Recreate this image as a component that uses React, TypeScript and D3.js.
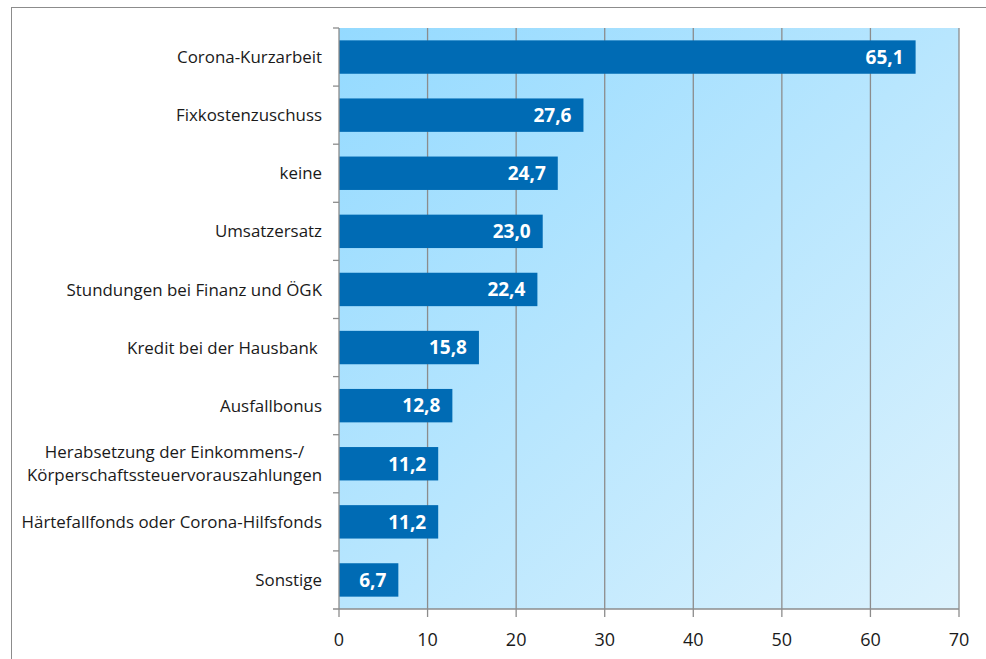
import React from "react";
import * as d3 from "d3";

const categories: string[][] = [
  ["Corona-Kurzarbeit"],
  ["Fixkostenzuschuss"],
  ["keine"],
  ["Umsatzersatz"],
  ["Stundungen bei Finanz und ÖGK"],
  ["Kredit bei der Hausbank "],
  ["Ausfallbonus"],
  ["Herabsetzung der Einkommens-/", "Körperschaftssteuervorauszahlungen"],
  ["Härtefallfonds oder Corona-Hilfsfonds"],
  ["Sonstige"],
];
const values: number[] = [65.1, 27.6, 24.7, 23.0, 22.4, 15.8, 12.8, 11.2, 11.2, 6.7];
const xTicks: number[] = [0, 10, 20, 30, 40, 50, 60, 70];

const W = 986;
const H = 659;
const left = 339;
const right = 959;
const top = 28;
const bottom = 609;
const FONT = "'Open Sans', sans-serif";
const LABEL_SIZE = 16.9;

let ctx: CanvasRenderingContext2D | null = null;
function measure(s: string): number {
  if (!ctx && typeof document !== "undefined") {
    ctx = document.createElement("canvas").getContext("2d");
  }
  if (!ctx) return s.length * LABEL_SIZE * 0.5;
  ctx.font = `${LABEL_SIZE}px 'Open Sans'`;
  return ctx.measureText(s).width;
}

export default function App() {
  const x = d3.scaleLinear().domain([0, 70]).range([left, right]);
  const y = d3
    .scaleBand<number>()
    .domain(d3.range(categories.length))
    .range([top, bottom])
    .paddingInner(0.425)
    .paddingOuter(0.2125);
  const band = (bottom - top) / categories.length;
  const fmt = (v: number) => v.toFixed(1).replace(".", ",");
  const labelRight = 322;

  return (
    <svg
      width={W}
      height={H}
      style={{ position: "absolute", left: 0, top: 0 }}
      fontFamily={FONT}
    >
      <defs>
        <linearGradient id="bg" x1="0" y1="0" x2="1" y2="1">
          <stop offset="0" stopColor="#94daff" />
          <stop offset="1" stopColor="#dcf2fd" />
        </linearGradient>
      </defs>
      <rect x={0} y={0} width={W} height={H} fill="#ffffff" />
      {/* outer frame */}
      <line x1={11} y1={7.5} x2={W} y2={7.5} stroke="#8c8c8c" strokeWidth={1} />
      <line x1={11.5} y1={7} x2={11.5} y2={H} stroke="#8c8c8c" strokeWidth={1} />
      {/* plot background */}
      <rect x={left} y={top} width={right - left} height={bottom - top} fill="url(#bg)" />
      {/* grid */}
      {xTicks.slice(1).map((t) => (
        <line
          key={"g" + t}
          x1={x(t)}
          x2={x(t)}
          y1={top}
          y2={bottom + 8}
          stroke="#8c8c8c"
          strokeWidth={1.3}
        />
      ))}
      {/* bars */}
      {values.map((v, i) => (
        <g key={"b" + i}>
          <rect
            x={x(0)}
            y={y(i)!}
            width={x(v) - x(0)}
            height={y.bandwidth()}
            fill="#006bb4"
          />
          <text
            x={x(v) - 12}
            y={y(i)! + y.bandwidth() / 2}
            dy="0.36em"
            textAnchor="end"
            fill="#ffffff"
            fontWeight={700}
            fontSize={19}
          >
            {fmt(v)}
          </text>
        </g>
      ))}
      {/* axes lines */}
      <line x1={left} x2={left} y1={top} y2={bottom + 8} stroke="#8c8c8c" strokeWidth={1.3} />
      <line x1={left - 6} x2={right} y1={bottom} y2={bottom} stroke="#8c8c8c" strokeWidth={1.3} />
      {d3.range(categories.length).map((i) => (
        <line
          key={"ct" + i}
          x1={left - 6}
          x2={left}
          y1={top + band * i}
          y2={top + band * i}
          stroke="#8c8c8c"
          strokeWidth={1.3}
        />
      ))}
      {/* x tick labels */}
      {xTicks.map((t) => (
        <text
          key={"xt" + t}
          x={x(t)}
          y={640}
          dy="0.36em"
          textAnchor="middle"
          fontSize={18}
          fill="#1a1a1a"
        >
          {t}
        </text>
      ))}
      {/* category labels */}
      {categories.map((lines, i) => {
        const cy = y(i)! + y.bandwidth() / 2;
        const lh = 23;
        const multi = lines.length > 1;
        const maxW = multi ? Math.max(...lines.map(measure)) : 0;
        const ax = multi ? labelRight - maxW / 2 : labelRight;
        return (
          <text
            key={"cl" + i}
            x={ax}
            textAnchor={multi ? "middle" : "end"}
            fontSize={LABEL_SIZE}
            fill="#1a1a1a"
          >
            {lines.map((l, j) => (
              <tspan
                key={j}
                x={ax}
                y={cy + (j - (lines.length - 1) / 2) * lh}
                dy="0.36em"
                style={{ whiteSpace: "pre" }}
              >
                {l}
              </tspan>
            ))}
          </text>
        );
      })}
    </svg>
  );
}
